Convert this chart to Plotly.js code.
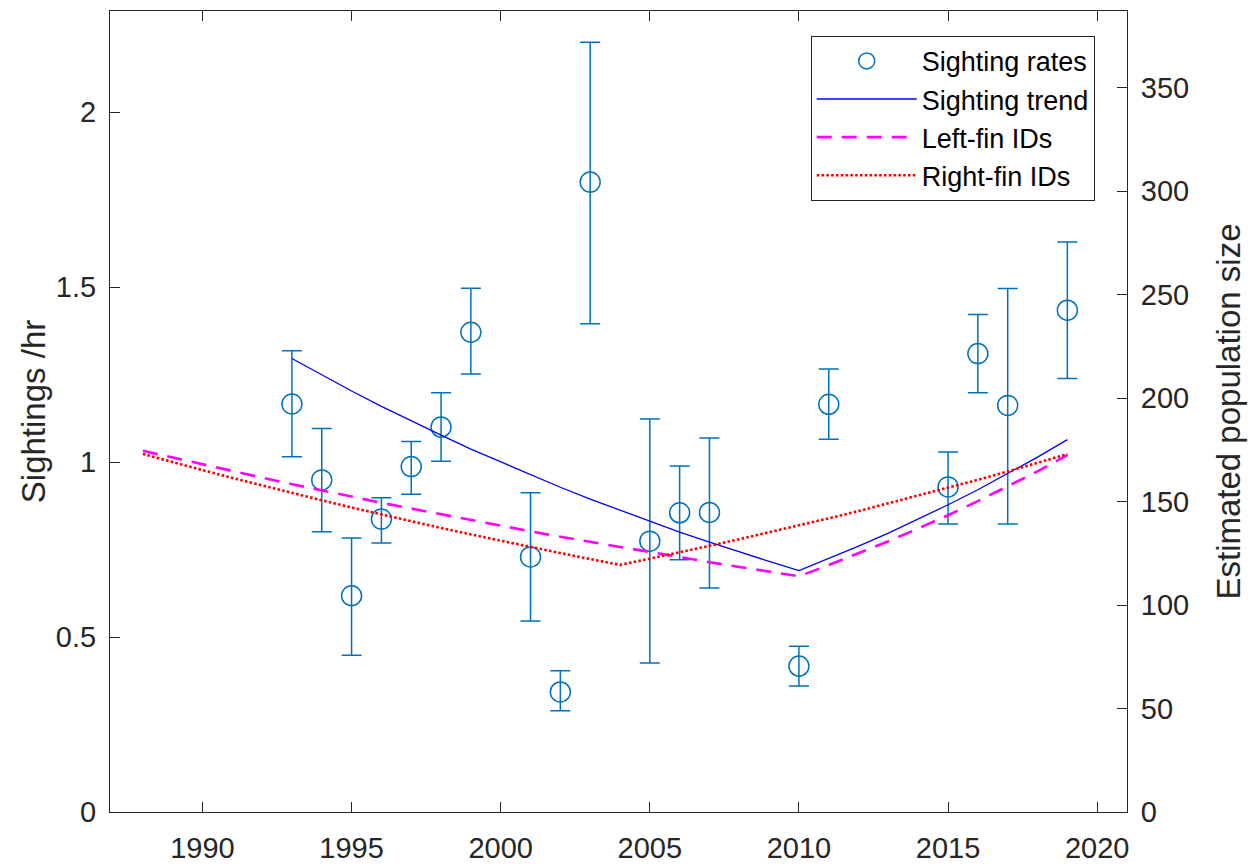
<!DOCTYPE html>
<html>
<head>
<meta charset="utf-8">
<script src="https://cdn.plot.ly/plotly-3.0.1.min.js"></script>
<style>html,body{margin:0;padding:0;background:#fff;}#chart{width:1255px;height:865px;}</style>
</head>
<body>
<div id="chart"></div>
<script>
// Sighting rates (left axis)
const rateYears = [1993,1994,1995,1996,1997,1998,1999,2001,2002,2003,2005,2006,2007,2010,2011,2015,2016,2017,2019];
const rates     = [1.166,0.949,0.618,0.837,0.987,1.100,1.371,0.729,0.343,1.800,0.774,0.855,0.856,0.417,1.165,0.929,1.310,1.162,1.434];
const rateUpper = [1.318,1.096,0.783,0.898,1.059,1.198,1.497,0.912,0.404,2.200,1.123,0.989,1.069,0.474,1.266,1.029,1.422,1.496,1.629];
const rateLower = [1.015,0.801,0.448,0.769,0.908,1.002,1.252,0.546,0.289,1.395,0.426,0.721,0.640,0.360,1.065,0.823,1.198,0.823,1.239];

// Sighting trend (left axis)
const trendYears = [1993,1994,1995,1996,1997,1998,1999,2000,2001,2002,2003,2004,2005,2006,2007,2008,2009,2010,2011,2012,2013,2014,2015,2016,2017,2018,2019];
const trend      = [1.296,1.249,1.203,1.159,1.117,1.077,1.037,1.000,0.963,0.928,0.894,0.862,0.830,0.800,0.771,0.743,0.716,0.690,0.724,0.760,0.797,0.837,0.878,0.921,0.967,1.014,1.064];

// Population estimates (right axis)
const popYears = [1988,1989,1990,1991,1992,1993,1994,1995,1996,1997,1998,1999,2000,2001,2002,2003,2004,2005,2006,2007,2008,2009,2010,2011,2012,2013,2014,2015,2016,2017,2018,2019];
const leftFin  = [174.5,171.2,167.9,164.6,161.5,158.4,155.3,152.4,149.4,146.6,143.8,141.0,138.3,135.6,133.0,130.5,128.0,125.5,123.1,120.7,118.4,116.1,113.9,119.3,124.9,130.8,137.0,143.4,150.2,157.2,164.6,172.4];
const rightFin = [173.0,169.0,165.2,161.4,157.7,154.1,150.6,147.1,143.7,140.4,137.2,134.1,131.0,128.0,125.1,122.2,119.4,122.4,125.4,128.6,131.8,135.1,138.4,141.9,145.4,149.1,152.8,156.6,160.5,164.5,168.7,172.9];

const xTicks = [1990,1995,2000,2005,2010,2015,2020];
const yTicks = [0,0.5,1,1.5,2];
const yTickText = ['0','0.5','1','1.5','2'];
const y2Ticks = [0,50,100,150,200,250,300,350];

const FONT = '"Liberation Sans", Arial, Helvetica, sans-serif';
const AX = '#262626';

const traces = [
  {
    x: rateYears, y: rates, name: 'Sighting rates', type: 'scatter', mode: 'markers',
    marker: {symbol: 'circle-open', size: 20, color: '#0072BD', line: {width: 1.5, color: '#0072BD'}},
    error_y: {type: 'data', symmetric: false,
      array: rates.map((v, i) => rateUpper[i] - v),
      arrayminus: rates.map((v, i) => v - rateLower[i]),
      color: '#0072BD', thickness: 1.5, width: 10},
    yaxis: 'y'
  },
  {
    x: trendYears, y: trend, name: 'Sighting trend', type: 'scatter', mode: 'lines',
    line: {color: '#0000FF', width: 1.3}, yaxis: 'y'
  },
  {
    x: popYears, y: leftFin, name: 'Left-fin IDs', type: 'scatter', mode: 'lines',
    line: {color: '#FF00FF', width: 2.6, dash: '15px,10px'}, yaxis: 'y2'
  },
  {
    x: popYears, y: rightFin, name: 'Right-fin IDs', type: 'scatter', mode: 'lines',
    line: {color: '#FF0000', width: 2.6, dash: '2.6px,2.2px'}, yaxis: 'y2'
  }
];

const layout = {
  width: 1255, height: 865,
  margin: {l: 110, r: 128, t: 11, b: 53},
  paper_bgcolor: '#fff', plot_bgcolor: '#fff',
  font: {family: FONT, size: 29, color: AX},
  showlegend: true,
  legend: {
    x: 0.689, y: 0.969, xanchor: 'left', yanchor: 'top',
    bgcolor: '#fff', bordercolor: AX, borderwidth: 1,
    font: {family: FONT, size: 27, color: '#000'},
    itemwidth: 100, tracegroupgap: 0
  },
  xaxis: {
    range: [1986.9, 2021], tickmode: 'array', tickvals: xTicks,
    ticks: 'inside', ticklen: 10, tickwidth: 1, tickcolor: AX,
    showline: true, linecolor: AX, linewidth: 1, mirror: 'ticks',
    showgrid: false, zeroline: false, ticklabelstandoff: 10,
    tickfont: {family: FONT, size: 29, color: AX}
  },
  yaxis: {
    range: [0, 2.289], tickmode: 'array', tickvals: yTicks, ticktext: yTickText,
    ticks: 'inside', ticklen: 10, tickwidth: 1, tickcolor: AX,
    showline: true, linecolor: AX, linewidth: 1,
    showgrid: false, zeroline: false, ticklabelstandoff: 7,
    tickfont: {family: FONT, size: 29, color: AX},
    title: {text: 'Sightings /hr', font: {family: FONT, size: 33, color: AX}, standoff: 0}
  },
  yaxis2: {
    range: [0, 387], tickmode: 'array', tickvals: y2Ticks,
    overlaying: 'y', side: 'right',
    ticks: 'inside', ticklen: 10, tickwidth: 1, tickcolor: AX,
    showline: true, linecolor: AX, linewidth: 1,
    showgrid: false, zeroline: false, ticklabelstandoff: 7,
    tickfont: {family: FONT, size: 29, color: AX},
    title: {text: 'Estimated population size', font: {family: FONT, size: 33, color: AX}, standoff: 28}
  }
};

Plotly.newPlot('chart', traces, layout, {displayModeBar: false, staticPlot: true});
</script>
</body>
</html>
